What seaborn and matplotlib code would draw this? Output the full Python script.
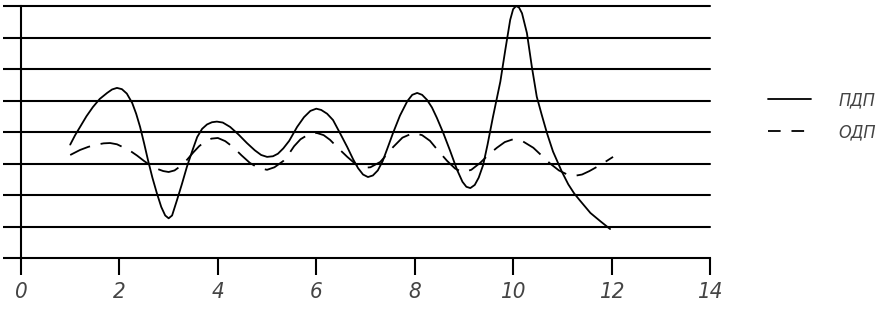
import matplotlib
matplotlib.use("Agg")
import matplotlib.pyplot as plt
import seaborn as sns

# ПДП (solid)
pdp_x = [1.00, 1.10, 1.20, 1.33, 1.46, 1.60, 1.75, 1.85, 1.95, 2.05, 2.15, 2.26, 2.34,
         2.42, 2.50, 2.58, 2.67, 2.76, 2.85, 2.93, 3.00, 3.07, 3.17, 3.27, 3.37, 3.48,
         3.58, 3.68, 3.78, 3.88, 3.98, 4.10, 4.25, 4.42, 4.59, 4.75, 4.88, 5.00, 5.12,
         5.22, 5.33, 5.45, 5.61, 5.75, 5.88, 6.00, 6.10, 6.22, 6.34, 6.48, 6.63, 6.75,
         6.85, 6.95, 7.05, 7.15, 7.25, 7.35, 7.45, 7.56, 7.70, 7.85, 7.95, 8.05, 8.15,
         8.25, 8.35, 8.45, 8.58, 8.72, 8.86, 8.97, 9.05, 9.13, 9.22, 9.30, 9.39, 9.48,
         9.59, 9.74, 9.84, 9.94, 10.00, 10.06, 10.12, 10.18, 10.28, 10.38, 10.48,
         10.58, 10.69, 10.81, 10.99, 11.12, 11.24, 11.36, 11.57, 11.77, 11.97]
pdp_y = [3.60, 3.90, 4.16, 4.50, 4.79, 5.05, 5.24, 5.35, 5.40, 5.36, 5.22, 4.92, 4.58,
         4.16, 3.65, 3.11, 2.55, 2.06, 1.62, 1.35, 1.26, 1.35, 1.84, 2.35, 2.89, 3.40,
         3.84, 4.10, 4.24, 4.31, 4.33, 4.30, 4.16, 3.92, 3.65, 3.42, 3.27, 3.21, 3.23,
         3.31, 3.48, 3.72, 4.16, 4.47, 4.67, 4.74, 4.70, 4.58, 4.38, 3.97, 3.52, 3.13,
         2.85, 2.65, 2.57, 2.62, 2.78, 3.08, 3.50, 3.97, 4.52, 4.98, 5.18, 5.24, 5.18,
         5.02, 4.78, 4.45, 3.97, 3.40, 2.80, 2.42, 2.26, 2.22, 2.32, 2.55, 2.95, 3.60,
         4.48, 5.60, 6.60, 7.56, 7.90, 8.00, 7.95, 7.77, 7.14, 6.07, 5.12,
         4.55, 3.95, 3.38, 2.74, 2.34, 2.05, 1.82, 1.43, 1.17, 0.92]

# ОДП (dashed)
odp_x = [1.00, 1.20, 1.37, 1.54, 1.68, 1.81, 1.95, 2.07, 2.22, 2.36, 2.50, 2.62, 2.75,
         2.89, 3.00, 3.12, 3.27, 3.38, 3.50, 3.62, 3.74, 3.87, 4.00, 4.15, 4.31, 4.48,
         4.65, 4.82, 5.00, 5.15, 5.33, 5.45, 5.55, 5.68, 5.85, 6.01, 6.15, 6.28, 6.45,
         6.63, 6.80, 6.95, 7.10, 7.30, 7.43, 7.56, 7.75, 7.97, 8.15, 8.31, 8.48, 8.66,
         8.82, 8.98, 9.15, 9.33, 9.50, 9.67, 9.83, 10.00, 10.20, 10.41, 10.58, 10.75,
         10.93, 11.10, 11.22, 11.40, 11.55, 11.71, 11.87, 12.03]
odp_y = [3.27, 3.43, 3.53, 3.60, 3.64, 3.65, 3.61, 3.52, 3.40, 3.25, 3.08, 2.95, 2.84,
         2.76, 2.73, 2.78, 2.95, 3.13, 3.35, 3.55, 3.70, 3.79, 3.81, 3.71, 3.52, 3.26,
         3.02, 2.86, 2.80, 2.88, 3.08, 3.32, 3.55, 3.77, 3.93, 3.97, 3.90, 3.75, 3.48,
         3.21, 2.98, 2.86, 2.88, 3.05, 3.28, 3.52, 3.82, 3.97, 3.90, 3.72, 3.40, 3.08,
         2.84, 2.72, 2.80, 3.02, 3.28, 3.50, 3.68, 3.77, 3.70, 3.50, 3.25, 3.00,
         2.78, 2.65, 2.60, 2.65, 2.76, 2.90, 3.05, 3.21]

x_ticks = [0, 2, 4, 6, 8, 10, 12, 14]
y_levels = [0, 1, 2, 3, 4, 5, 6, 7, 8]
series_labels = ["ПДП", "ОДП"]

sns.set_theme(style="white")
plt.rcParams['font.family'] = ['DejaVu Sans']
plt.rcParams['font.stretch'] = 'condensed'

fig = plt.figure(figsize=(8.83, 3.09), dpi=100)
ax = fig.add_axes([21/883, 51/309, (710-21)/883, (258-6)/309])

for yv in y_levels[1:]:
    ax.axhline(yv, color="black", lw=1.5, zorder=1, clip_on=False)

sns.lineplot(x=pdp_x, y=pdp_y, ax=ax, color="black", lw=1.3, sort=False,
             estimator=None, label=series_labels[0], zorder=3)
sns.lineplot(x=odp_x, y=odp_y, ax=ax, color="black", lw=1.3, sort=False,
             estimator=None, label=series_labels[1], zorder=3)
ax.lines[-1].set_linestyle((0, (12, 6)))
for ln in ax.lines:
    ln.set_solid_joinstyle("round")
    ln.set_dash_joinstyle("round")
    ln.set_clip_on(False)

ax.set_xlim(0, 14)
ax.set_ylim(0, 8)
ax.set_xticks(x_ticks)
ax.set_xticklabels([str(t) for t in x_ticks], fontstyle="italic", fontsize=16,
                   color="#444444", fontstretch="condensed")
ax.set_yticks(y_levels)
ax.set_yticklabels([])
ax.tick_params(axis="x", direction="out", length=12, width=1.5, color="black", pad=5, bottom=True)
ax.tick_params(axis="y", direction="out", length=13, width=1.5, color="black", left=True)

for s in ["top", "right"]:
    ax.spines[s].set_visible(False)
for s in ["left", "bottom"]:
    ax.spines[s].set_color("black")
    ax.spines[s].set_linewidth(1.5)
ax.set_xlabel("")
ax.set_ylabel("")

leg = ax.legend(loc="center left", bbox_to_anchor=(768/883, 1 - 116.5/309),
                bbox_transform=fig.transFigure, frameon=False, fontsize=13,
                handlelength=2.4, handletextpad=1.5, labelspacing=0.75,
                borderpad=0, borderaxespad=0)
for t in leg.get_texts():
    t.set_fontstyle("italic")
    t.set_color("#444444")
    t.set_fontstretch("condensed")
for h in leg.get_lines():
    h.set_linewidth(1.3)
leg.get_lines()[1].set_linestyle((0, (7, 6)))

fig.savefig("out.png", dpi=100)
